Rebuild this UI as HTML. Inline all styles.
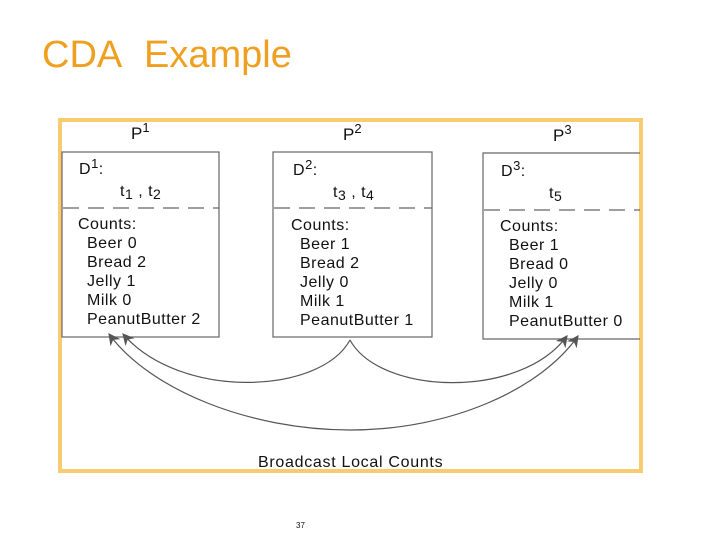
<!DOCTYPE html>
<html><head><meta charset="utf-8"><style>
html,body{margin:0;padding:0;background:#fff;width:720px;height:540px;overflow:hidden}
svg{display:block}
text{font-family:"Liberation Sans",Arial,sans-serif;fill:#111}
</style></head><body>
<svg width="720" height="540" viewBox="0 0 720 540">
<defs>
<marker id="ah" viewBox="0 0 10 10" refX="9" refY="5" markerWidth="12" markerHeight="12" markerUnits="userSpaceOnUse" orient="auto">
<path d="M0,0 L10,5 L0,10 L3,5 z" fill="#555"/>
</marker>
</defs>
<text x="42" y="67" style="font-size:38px;fill:#f0a020">CDA</text>
<text x="144" y="67" style="font-size:38px;fill:#f0a020">Example</text>
<rect x="60" y="120" width="581" height="351" fill="none" stroke="#f7cb70" stroke-width="4"/>
<g font-size="17">
<text x="131" y="139">P<tspan dy="-7" font-size="13">1</tspan></text>
<text x="343" y="140">P<tspan dy="-7" font-size="13">2</tspan></text>
<text x="553" y="141">P<tspan dy="-7" font-size="13">3</tspan></text>
</g>
<g fill="none" stroke="#666" stroke-width="1.2">
<rect x="62" y="152" width="157" height="185"/>
<rect x="273" y="152" width="159" height="185"/>
<path d="M640,153 L483,153 L483,339 L640,339"/>
</g>
<g stroke="#666" stroke-width="1.2" stroke-dasharray="16,9">
<line x1="63" y1="208" x2="219" y2="208"/>
<line x1="274" y1="208" x2="432" y2="208"/>
<line x1="484" y1="210" x2="640" y2="210"/>
</g>
<g font-size="16" letter-spacing="0.5">
<text x="79" y="174">D<tspan dy="-6" font-size="13">1</tspan><tspan dy="6">:</tspan></text>
<text x="120" y="196">t<tspan dy="3" font-size="14">1</tspan><tspan dy="-3"> , t</tspan><tspan dy="3" font-size="14">2</tspan></text>
<text x="78" y="229">Counts:</text>
<text x="87" y="248">Beer  0</text>
<text x="87" y="267">Bread 2</text>
<text x="87" y="286">Jelly 1</text>
<text x="87" y="305">Milk 0</text>
<text x="87" y="324">PeanutButter 2</text>

<text x="293" y="175">D<tspan dy="-6" font-size="13">2</tspan><tspan dy="6">:</tspan></text>
<text x="333" y="197">t<tspan dy="3" font-size="14">3</tspan><tspan dy="-3"> , t</tspan><tspan dy="3" font-size="14">4</tspan></text>
<text x="291" y="230">Counts:</text>
<text x="300" y="249">Beer  1</text>
<text x="300" y="268">Bread 2</text>
<text x="300" y="287">Jelly 0</text>
<text x="300" y="306">Milk 1</text>
<text x="300" y="325">PeanutButter 1</text>

<text x="501" y="176">D<tspan dy="-6" font-size="13">3</tspan><tspan dy="6">:</tspan></text>
<text x="549" y="198">t<tspan dy="3" font-size="14">5</tspan></text>
<text x="500" y="231">Counts:</text>
<text x="509" y="250">Beer  1</text>
<text x="509" y="269">Bread 0</text>
<text x="509" y="288">Jelly 0</text>
<text x="509" y="307">Milk 1</text>
<text x="509" y="326">PeanutButter 0</text>
<text x="258" y="467" letter-spacing="0.7">Broadcast Local Counts</text>
</g>
<g fill="none" stroke="#555" stroke-width="1.2" marker-end="url(#ah)">
<path d="M350,340 C320,395 180,400 123,334"/>
<path d="M350,340 C380,395 520,400 567,336"/>
<path d="M350,430 C250,430 150,390 109,334"/>
<path d="M350,430 C450,430 540,390 578,336"/>
</g>
<text x="296" y="528" style="font-size:8px">37</text>
</svg>
</body></html>
